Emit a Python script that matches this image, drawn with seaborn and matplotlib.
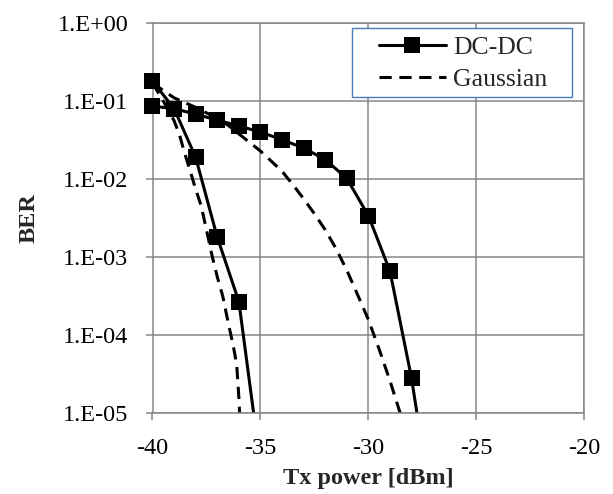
import numpy as np
import matplotlib
matplotlib.use("Agg")
import matplotlib.pyplot as plt
from matplotlib.ticker import FuncFormatter, FixedLocator, NullLocator
from matplotlib.lines import Line2D
from matplotlib.patches import Rectangle
import seaborn as sns

sns.set_theme(style="white")
plt.rcParams['font.family'] = ['Liberation Serif', 'DejaVu Serif']

dc_x1 = [-40, -39, -38, -37, -36, -35]
dc_ber1 = [0.18, 0.08, 0.019, 1.8e-3, 2.7e-4, 2.2e-6]

dc_x2 = [-40, -39, -38, -37, -36, -35, -34, -33, -32, -31, -30, -29, -28, -27]
dc_ber2 = [0.086, 0.08, 0.068, 0.057, 0.048, 0.040, 0.032, 0.025, 0.0178, 0.0102,
           3.4e-3, 6.6e-4, 2.8e-5, 4.5e-7]

# Gaussian curves
g_x1 = [-40, -39.5, -39, -38.75, -38.5, -38.25, -38, -37.75, -37.5, -37.25, -37,
        -36.75, -36.5, -36.25, -36.1, -36.0, -35.95]
g_ber1 = [0.17, 0.10, 0.056, 0.037, 0.021, 0.0126, 7.4e-3, 4.6e-3, 2.24e-3, 1.07e-3,
          5.6e-4, 3.2e-4, 1.48e-4, 7.1e-5, 4.2e-5, 1.6e-5, 8e-6]

g_x2 = [-40, -39, -38, -37, -36.5, -36, -35.5, -35, -34.5, -34, -33.5, -33, -32.5,
        -32, -31.5, -31, -30.5, -30, -29.5, -29, -28.5]
g_ber2 = [0.17, 0.11, 0.083, 0.060, 0.049, 0.038, 0.0295, 0.0229, 0.017, 0.0126, 8.5e-3,
          5.6e-3, 3.6e-3, 2.24e-3, 1.29e-3, 6.8e-4, 3.3e-4, 1.58e-4, 6.6e-5, 2.6e-5, 9.5e-6]

x_ticks = [-40, -35, -30, -25, -20]
y_ticks = [1e-5, 1e-4, 1e-3, 1e-2, 1e-1, 1e0]
y_min, y_max = 1e-5, 1

fig = plt.figure(figsize=(6.13, 4.94), dpi=100)
ax = fig.add_axes([152.5 / 613, 1 - 413.3 / 494, 431.8 / 613, 390.3 / 494])

lw = 2.2
ms = 11
dash = [4, 2.5]

for xs, ys in [(dc_x1, dc_ber1), (dc_x2, dc_ber2)]:
    sns.lineplot(x=xs, y=ys, ax=ax, color="black", linewidth=lw)
    # markers on the axes edge are drawn whole, points past the range are left out
    px = [a for a, b in zip(xs, ys) if b >= y_min]
    py = [b for b in ys if b >= y_min]
    sns.scatterplot(x=px, y=py, ax=ax, color="black", marker="s", s=ms ** 2,
                    edgecolor="black", linewidth=0, clip_on=False, zorder=4)

for xs, ys in [(g_x1, g_ber1), (g_x2, g_ber2)]:
    sns.lineplot(x=xs, y=ys, ax=ax, color="black", linewidth=lw)
    ax.get_lines()[-1].set_dashes(dash)

ax.set_yscale("log")
ax.set_xlim(-40, -20)
ax.set_ylim(y_min, y_max)
ax.xaxis.set_major_locator(FixedLocator(x_ticks))
ax.yaxis.set_major_locator(FixedLocator(y_ticks))
ax.yaxis.set_minor_locator(NullLocator())
ax.yaxis.set_major_formatter(FuncFormatter(lambda v, p: "1.E%+03d" % int(round(np.log10(v)))))
ax.xaxis.set_major_formatter(FuncFormatter(lambda v, p: "%d" % v))

ax.grid(True, color="#868686", linewidth=1.1)
for s in ax.spines.values():
    s.set_color("#868686")
    s.set_linewidth(1.1)
ax.tick_params(axis="both", which="major", direction="out", length=5, width=1.1,
               color="#868686", labelsize=17.5, labelcolor="black")
ax.tick_params(axis="y", pad=12.5)
ax.tick_params(axis="x", pad=12.5)
ax.tick_params(left=True, bottom=True)

ax.set_xlabel("Tx power [dBm]", fontsize=17.5, fontweight="bold")
ax.set_ylabel("BER", fontsize=17.5, fontweight="bold")
ax.xaxis.set_label_coords(0.5, -0.14)
ax.yaxis.set_label_coords(-0.262, 0.5)

# legend box
ax.add_patch(Rectangle((0.462, 0.811), 0.509, 0.177, transform=ax.transAxes,
                       facecolor="white", edgecolor="#4a7ebb", linewidth=1.0,
                       zorder=5, clip_on=False))
handles = [
    Line2D([], [], color="black", linewidth=lw, marker="s", markersize=ms,
           markeredgewidth=0),
    Line2D([], [], color="black", linewidth=lw, dashes=dash),
]
leg = ax.legend(handles, ["DC-DC", "Gaussian"], loc="center left",
                bbox_to_anchor=(0.5245, 0.8966), borderaxespad=0, borderpad=0,
                fontsize=18.5, frameon=False, handlelength=2.6,
                handletextpad=0.28, labelspacing=0.34)
leg.set_zorder(6)

fig.savefig("out.png", dpi=100)
